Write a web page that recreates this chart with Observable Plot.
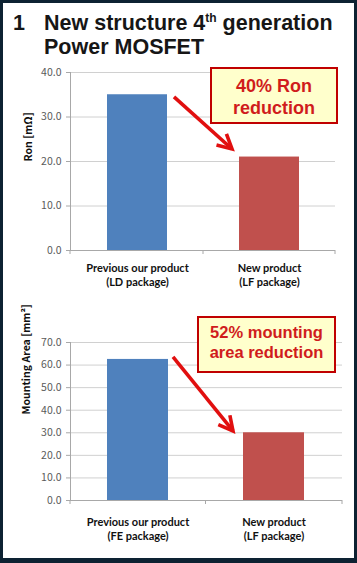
<!DOCTYPE html>
<html><head><meta charset="utf-8">
<script src="https://cdn.jsdelivr.net/npm/d3@7"></script>
<script src="https://cdn.jsdelivr.net/npm/@observablehq/plot@0.6"></script>
<style>
html,body{margin:0;padding:0;}
body{width:357px;height:563px;background:#0d2232;position:relative;overflow:hidden;}
#panel{position:absolute;left:3px;top:3px;width:351px;height:555px;background:#fff;}
.chart{position:absolute;left:0;}
.t{position:absolute;font-family:"Liberation Sans",Arial,sans-serif;font-weight:bold;font-size:21.5px;line-height:24px;color:#161616;white-space:nowrap;}
.callout{position:absolute;background:#ffffcc;border:2px solid #c00000;color:#d01c1c;text-align:center;font-family:"Liberation Sans",Arial,sans-serif;font-weight:bold;box-sizing:border-box;white-space:nowrap;}
</style></head>
<body>
<div id="panel"></div>
<div class="t" style="left:13px;top:10.5px;">1</div>
<div class="t" style="left:44px;top:10.5px;">New structure 4<span style="font-size:12px;position:relative;top:-8px;">th</span> generation</div>
<div class="t" style="left:44px;top:34.5px;">Power MOSFET</div>
<div id="c1" class="chart" style="top:60px;"></div>
<div id="c2" class="chart" style="top:290px;"></div>
<div class="callout" style="left:210px;top:67px;width:128px;height:57px;font-size:18px;line-height:22px;padding-top:5.8px;">40% Ron<br>reduction</div>
<div class="callout" style="left:197px;top:316px;width:139px;height:57px;font-size:16.5px;line-height:20px;padding-top:4.3px;">52% mounting<br>area reduction</div>
<script>
// ---- data ----
const ronCategories = ["Previous our product", "New product"];
const ronPackages = ["(LD package)", "(LF package)"];
const ronValues = [35.0, 21.0];
const ronTicks = [0, 10, 20, 30, 40];
const ronLabel = "Ron [mΩ]";

const areaCategories = ["Previous our product", "New product"];
const areaPackages = ["(FE package)", "(LF package)"];
const areaValues = [62.5, 30.0];
const areaTicks = [0, 10, 20, 30, 40, 50, 60, 70];
const areaLabel = "Mounting Area [mm²]";

const barColors = ["#4f81bd", "#c0504d"];
// arrow annotation: start/end heights in data units
const ronArrow = {v1: 34.4, v2: 22.7, gapStart: 7, gapEnd: 7};
const areaArrow = {v1: 63.4, v2: 30.6, gapStart: 5, gapEnd: 10};

function arrowMark(cats, a) {
  return (index, scales) => {
    const x = scales.x, y = scales.y;
    const bw = x.bandwidth();
    const x1 = x(cats[0]) + bw + a.gapStart, y1 = y(a.v1);
    const x2 = x(cats[1]) - a.gapEnd, y2 = y(a.v2);
    const ang = Math.atan2(y2 - y1, x2 - x1);
    const L = 16, h = Math.PI / 6.5;
    const p1 = [x2 - L * Math.cos(ang - h), y2 - L * Math.sin(ang - h)];
    const p2 = [x2 - L * Math.cos(ang + h), y2 - L * Math.sin(ang + h)];
    const g = d3.create("svg:g").attr("fill", "none").attr("stroke", "#e10f0f")
      .attr("stroke-width", 3.6).attr("stroke-linecap", "butt").attr("stroke-linejoin", "miter");
    g.append("path").attr("d", `M${x1},${y1}L${x2},${y2}`);
    g.append("path").attr("d", `M${p1[0]},${p1[1]}L${x2},${y2}L${p2[0]},${p2[1]}`);
    return g.node();
  };
}

// category-boundary tick marks under the x axis (Excel style)
function boundaryTicks(cats) {
  return (index, scales) => {
    const x = scales.x, y = scales.y;
    const [r0, r1] = x.range();
    const mid = (x(cats[0]) + x.bandwidth() + x(cats[1])) / 2;
    const y0 = y(0);
    const g = d3.create("svg:g").attr("stroke", "#a8a8a8");
    for (const px of [r0, mid, r1]) g.append("path").attr("d", `M${px},${y0}V${y0 + 4}`);
    return g.node();
  };
}

function chart(o) {
  const data = o.cats.map((c, i) => ({cat: c, value: o.vals[i], color: barColors[i]}));
  const top = o.ticks[o.ticks.length - 1];
  return Plot.plot({
    width: 357, height: o.height,
    marginTop: o.mt, marginBottom: o.mb, marginLeft: 70, marginRight: o.mr,
    style: {background: "transparent", overflow: "visible"},
    x: {domain: o.cats, paddingInner: o.pi, paddingOuter: o.po, axis: null},
    y: {domain: [0, top], axis: null},
    color: {type: "identity"},
    marks: [
      Plot.gridY(o.ticks, {stroke: "#d0d0d0", strokeOpacity: 1}),
      Plot.barY(data, {x: "cat", y: "value", fill: "color"}),
      Plot.ruleY([0], {stroke: "#a8a8a8"}),
      Plot.frame({anchor: "left", stroke: "#a8a8a8"}),
      boundaryTicks(o.cats),
      Plot.axisY(o.ticks, {tickFormat: d3.format(".1f"), tickSize: 4, tickPadding: 5, stroke: "#a8a8a8",
        fill: "#5a5a5a", fontSize: 10.5, fontFamily: "'Noto Sans CJK JP','Noto Sans',sans-serif", label: null}),
      Plot.text([o.label], {frameAnchor: "left", rotate: -90, dx: -o.labelDx, dy: o.labelDy, fontWeight: "bold",
        fontSize: 10.5, fill: "#111", fontFamily: "'Noto Sans CJK JP','Noto Sans',sans-serif"}),
      Plot.axisX({tickSize: 0, tickPadding: o.tickPad, fontWeight: "bold", fontSize: 11, fill: "#111",
        lineHeight: 1.27, fontFamily: "Lato, sans-serif",
        tickFormat: (d) => d + "\n" + o.pkgs[o.cats.indexOf(d)], label: null}),
      arrowMark(o.cats, o.arrow)
    ]
  });
}

document.getElementById("c1").append(chart({
  cats: ronCategories, pkgs: ronPackages, vals: ronValues, ticks: ronTicks, label: ronLabel,
  height: 230, mt: 12, mb: 40, mr: 22, pi: 0.547, po: 0.274, tickPad: 12, labelDx: 42, labelDy: 0, arrow: ronArrow
}));
document.getElementById("c2").append(chart({
  cats: areaCategories, pkgs: areaPackages, vals: areaValues, ticks: areaTicks, label: areaLabel,
  height: 273, mt: 52, mb: 63, mr: 15, pi: 0.55, po: 0.275, tickPad: 16, labelDx: 44, labelDy: -7, arrow: areaArrow
}));
</script>
</body></html>
